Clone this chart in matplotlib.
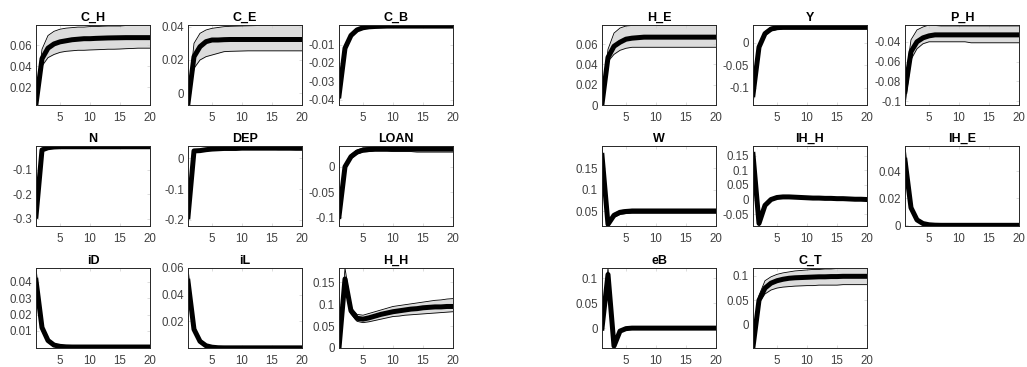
import numpy as np
import matplotlib
matplotlib.use("Agg")
import matplotlib.pyplot as plt

plt.rcParams["font.family"] = ["Liberation Sans", "DejaVu Sans"]

HORIZON = np.arange(1, 21)

# Impulse responses: median and upper / lower bands, 20 periods each
names = ["C_H", "C_E", "C_B", "N", "DEP", "LOAN", "iD", "iL", "H_H",
         "H_E", "Y", "P_H", "W", "IH_H", "IH_E", "eB", "C_T"]

mean = {
    "C_H": [0.004, 0.047, 0.057, 0.061, 0.063, 0.064, 0.065, 0.0655, 0.066, 0.066,
            0.0663, 0.0665, 0.0667, 0.0668, 0.0669, 0.067, 0.067, 0.067, 0.067, 0.067],
    "C_E": [-0.006, 0.022, 0.028, 0.031, 0.032, 0.032, 0.0322, 0.0323, 0.0323, 0.0323,
            0.0323, 0.0323, 0.0323, 0.0323, 0.0323, 0.0323, 0.0323, 0.0323, 0.0323, 0.0323],
    "C_B": [-0.038, -0.012, -0.005, -0.002, -0.0008, -0.0003, -0.0001, 0.0, 0.0001, 0.0001,
            0.0001, 0.0001, 0.0001, 0.0001, 0.0001, 0.0001, 0.0001, 0.0001, 0.0001, 0.0001],
    "N": [-0.29, -0.02, -0.011, -0.008, -0.007, -0.007, -0.007, -0.007, -0.007, -0.007,
          -0.007, -0.007, -0.007, -0.007, -0.007, -0.007, -0.007, -0.007, -0.007, -0.007],
    "DEP": [-0.19, 0.024, 0.025, 0.028, 0.030, 0.031, 0.032, 0.032, 0.032, 0.033,
            0.033, 0.033, 0.033, 0.033, 0.033, 0.033, 0.033, 0.033, 0.033, 0.033],
    "LOAN": [-0.098, 0.0, 0.02, 0.029, 0.033, 0.034, 0.035, 0.035, 0.035, 0.035,
             0.035, 0.035, 0.035, 0.035, 0.035, 0.035, 0.035, 0.035, 0.035, 0.035],
    "iD": [0.041, 0.012, 0.004, 0.0012, 0.0004, 0.0001, 0.0, 0.0, 0.0, 0.0,
           0.0, 0.0, 0.0, 0.0, 0.0, 0.0, 0.0, 0.0, 0.0, 0.0],
    "iL": [0.050, 0.014, 0.005, 0.0017, 0.0006, 0.0002, 0.0001, 0.0001, 0.0001, 0.0001,
           0.0001, 0.0001, 0.0001, 0.0001, 0.0001, 0.0001, 0.0001, 0.0001, 0.0001, 0.0001],
    "H_H": [0.0, 0.158, 0.085, 0.068, 0.066, 0.069, 0.073, 0.077, 0.080, 0.083,
            0.085, 0.087, 0.089, 0.090, 0.092, 0.093, 0.094, 0.094, 0.095, 0.095],
    "H_E": [0.001, 0.047, 0.058, 0.062, 0.065, 0.066, 0.0665, 0.067, 0.067, 0.067,
            0.067, 0.067, 0.067, 0.067, 0.067, 0.067, 0.067, 0.067, 0.067, 0.067],
    "Y": [-0.115, -0.01, 0.02, 0.03, 0.033, 0.034, 0.034, 0.034, 0.034, 0.034,
          0.034, 0.034, 0.034, 0.034, 0.034, 0.034, 0.034, 0.034, 0.034, 0.034],
    "P_H": [-0.09, -0.05, -0.040, -0.036, -0.034, -0.033, -0.033, -0.033, -0.033, -0.033,
            -0.033, -0.033, -0.033, -0.033, -0.033, -0.033, -0.033, -0.033, -0.033, -0.033],
    "W": [0.18, 0.019, 0.040, 0.047, 0.049, 0.050, 0.050, 0.050, 0.050, 0.050,
          0.050, 0.050, 0.050, 0.050, 0.050, 0.050, 0.050, 0.050, 0.050, 0.050],
    "IH_H": [0.155, -0.082, -0.02, 0.0, 0.007, 0.009, 0.009, 0.008, 0.007, 0.006,
             0.005, 0.005, 0.004, 0.004, 0.003, 0.003, 0.002, 0.001, 0.001, 0.0],
    "IH_E": [0.048, 0.013, 0.004, 0.0013, 0.0004, 0.0001, 0.0, 0.0, 0.0, 0.0,
             0.0, 0.0, 0.0, 0.0, 0.0, 0.0, 0.0, 0.0, 0.0, 0.0],
    "eB": [0.0, 0.108, -0.036, -0.006, -0.001, 0.0, 0.0, 0.0, 0.0, 0.0,
           0.0, 0.0, 0.0, 0.0, 0.0, 0.0, 0.0, 0.0, 0.0, 0.0],
    "C_T": [-0.045, 0.05, 0.075, 0.085, 0.09, 0.093, 0.095, 0.096, 0.0965, 0.097,
            0.0975, 0.098, 0.098, 0.0985, 0.0985, 0.099, 0.099, 0.099, 0.099, 0.099],
}

upper = {
    "C_H": [0.006, 0.056, 0.069, 0.073, 0.075, 0.076, 0.0765, 0.077, 0.077, 0.0775,
            0.0775, 0.0778, 0.078, 0.078, 0.078, 0.0785, 0.0785, 0.079, 0.079, 0.079],
    "C_E": [-0.005, 0.030, 0.036, 0.038, 0.039, 0.0395, 0.040, 0.0402, 0.0403, 0.0404,
            0.0405, 0.0406, 0.0407, 0.0408, 0.0408, 0.0409, 0.0409, 0.041, 0.041, 0.041],
    "C_B": [-0.034, -0.010, -0.004, -0.0014, -0.0003, 0.0002, 0.0004, 0.0005, 0.0006, 0.0006,
            0.0006, 0.0006, 0.0007, 0.0007, 0.0007, 0.0007, 0.0007, 0.0007, 0.0007, 0.0007],
    "N": [-0.26, -0.015, -0.007, -0.005, -0.004, -0.004, -0.004, -0.004, -0.004, -0.004,
          -0.004, -0.004, -0.004, -0.004, -0.004, -0.004, -0.004, -0.004, -0.004, -0.004],
    "DEP": [-0.16, 0.027, 0.028, 0.031, 0.033, 0.034, 0.035, 0.035, 0.035, 0.036,
            0.036, 0.037, 0.037, 0.038, 0.038, 0.039, 0.039, 0.04, 0.04, 0.04],
    "LOAN": [-0.08, 0.004, 0.024, 0.033, 0.037, 0.038, 0.039, 0.039, 0.039, 0.040,
             0.040, 0.040, 0.040, 0.041, 0.041, 0.041, 0.041, 0.041, 0.041, 0.041],
    "iD": [0.0486, 0.014, 0.005, 0.0016, 0.0006, 0.0002, 0.0001, 0.0, 0.0, 0.0,
           0.0, 0.0, 0.0, 0.0, 0.0, 0.0, 0.0, 0.0, 0.0, 0.0],
    "iL": [0.060, 0.017, 0.006, 0.002, 0.0007, 0.0003, 0.0002, 0.0002, 0.0002, 0.0002,
           0.0002, 0.0002, 0.0002, 0.0002, 0.0002, 0.0002, 0.0002, 0.0002, 0.0002, 0.0002],
    "H_H": [0.0, 0.183, 0.093, 0.077, 0.075, 0.079, 0.083, 0.087, 0.091, 0.095,
            0.097, 0.099, 0.101, 0.103, 0.105, 0.107, 0.109, 0.110, 0.112, 0.113],
    "H_E": [0.002, 0.055, 0.071, 0.076, 0.078, 0.0785, 0.079, 0.079, 0.079, 0.079,
            0.079, 0.079, 0.079, 0.079, 0.079, 0.079, 0.079, 0.079, 0.079, 0.079],
    "Y": [-0.095, -0.006, 0.024, 0.034, 0.037, 0.038, 0.038, 0.0385, 0.0385, 0.039,
          0.039, 0.039, 0.039, 0.039, 0.039, 0.039, 0.039, 0.039, 0.039, 0.039],
    "P_H": [-0.083, -0.038, -0.028, -0.025, -0.023, -0.0235, -0.024, -0.024, -0.024, -0.024,
            -0.024, -0.024, -0.024, -0.024, -0.024, -0.024, -0.024, -0.024, -0.024, -0.024],
    "W": [0.202, 0.022, 0.044, 0.051, 0.053, 0.054, 0.054, 0.054, 0.054, 0.054,
          0.054, 0.054, 0.054, 0.054, 0.054, 0.054, 0.054, 0.054, 0.054, 0.054],
    "IH_H": [0.184, -0.072, -0.014, 0.004, 0.011, 0.013, 0.013, 0.012, 0.011, 0.010,
             0.009, 0.009, 0.008, 0.008, 0.007, 0.007, 0.006, 0.005, 0.005, 0.004],
    "IH_E": [0.0586, 0.016, 0.005, 0.0017, 0.0006, 0.0002, 0.0001, 0.0, 0.0, 0.0,
             0.0, 0.0, 0.0, 0.0, 0.0, 0.0, 0.0, 0.0, 0.0, 0.0],
    "eB": [0.0, 0.121, -0.030, -0.003, 0.001, 0.002, 0.002, 0.002, 0.002, 0.002,
           0.002, 0.002, 0.002, 0.002, 0.002, 0.002, 0.002, 0.002, 0.002, 0.002],
    "C_T": [-0.04, 0.06, 0.09, 0.098, 0.103, 0.106, 0.108, 0.110, 0.111, 0.112,
            0.113, 0.113, 0.114, 0.114, 0.115, 0.115, 0.116, 0.116, 0.116, 0.116],
}

lower = {
    "C_H": [0.003, 0.040, 0.048, 0.051, 0.053, 0.054, 0.0545, 0.055, 0.055, 0.0553,
            0.0555, 0.0557, 0.056, 0.056, 0.0562, 0.0565, 0.0567, 0.057, 0.057, 0.057],
    "C_E": [-0.007, 0.015, 0.020, 0.022, 0.023, 0.024, 0.025, 0.0252, 0.0253, 0.0254,
            0.0255, 0.0255, 0.0255, 0.0255, 0.0255, 0.0255, 0.0255, 0.0255, 0.0255, 0.0255],
    "C_B": [-0.043, -0.014, -0.006, -0.0026, -0.0013, -0.0008, -0.0006, -0.0005, -0.0004, -0.0004,
            -0.0004, -0.0004, -0.0004, -0.0004, -0.0004, -0.0004, -0.0004, -0.0004, -0.0004, -0.0004],
    "N": [-0.33, -0.025, -0.015, -0.011, -0.010, -0.010, -0.010, -0.010, -0.010, -0.010,
          -0.010, -0.010, -0.010, -0.010, -0.010, -0.010, -0.010, -0.010, -0.010, -0.010],
    "DEP": [-0.22, 0.021, 0.022, 0.025, 0.027, 0.028, 0.029, 0.029, 0.029, 0.030,
            0.030, 0.030, 0.029, 0.029, 0.029, 0.028, 0.028, 0.028, 0.027, 0.027],
    "LOAN": [-0.117, -0.004, 0.016, 0.025, 0.029, 0.030, 0.031, 0.031, 0.031, 0.030,
             0.030, 0.030, 0.030, 0.029, 0.029, 0.029, 0.029, 0.029, 0.029, 0.029],
    "iD": [0.035, 0.010, 0.003, 0.0009, 0.0002, -0.0001, -0.0003, -0.0004, -0.0005, -0.0005,
           -0.0006, -0.0006, -0.0006, -0.0006, -0.0006, -0.0006, -0.0006, -0.0006, -0.0006, -0.0006],
    "iL": [0.042, 0.012, 0.004, 0.0014, 0.0004, 0.0001, 0.0, 0.0, 0.0, 0.0,
           0.0, 0.0, 0.0, 0.0, 0.0, 0.0, 0.0, 0.0, 0.0, 0.0],
    "H_H": [0.0, 0.140, 0.078, 0.061, 0.058, 0.060, 0.063, 0.066, 0.069, 0.072,
            0.073, 0.075, 0.076, 0.077, 0.078, 0.079, 0.080, 0.081, 0.082, 0.083],
    "H_E": [0.0, 0.043, 0.050, 0.054, 0.056, 0.057, 0.057, 0.057, 0.057, 0.057,
            0.057, 0.057, 0.057, 0.057, 0.057, 0.057, 0.057, 0.057, 0.057, 0.057],
    "Y": [-0.138, -0.014, 0.016, 0.026, 0.029, 0.030, 0.030, 0.030, 0.030, 0.030,
          0.030, 0.030, 0.030, 0.030, 0.030, 0.030, 0.030, 0.030, 0.030, 0.030],
    "P_H": [-0.104, -0.058, -0.047, -0.042, -0.040, -0.040, -0.040, -0.040, -0.040, -0.040,
            -0.040, -0.041, -0.041, -0.041, -0.041, -0.041, -0.041, -0.041, -0.041, -0.041],
    "W": [0.16, 0.015, 0.035, 0.042, 0.044, 0.045, 0.045, 0.045, 0.045, 0.045,
          0.045, 0.045, 0.045, 0.045, 0.045, 0.045, 0.045, 0.045, 0.045, 0.045],
    "IH_H": [0.13, -0.091, -0.026, -0.004, 0.003, 0.005, 0.005, 0.004, 0.003, 0.002,
             0.001, 0.001, 0.0, 0.0, -0.001, -0.001, -0.002, -0.003, -0.003, -0.004],
    "IH_E": [0.040, 0.011, 0.003, 0.0009, 0.0002, -0.0001, -0.0003, -0.0004, -0.0005, -0.0005,
             -0.0005, -0.0005, -0.0005, -0.0005, -0.0005, -0.0005, -0.0005, -0.0005, -0.0005, -0.0005],
    "eB": [0.0, 0.095, -0.040, -0.009, -0.003, -0.002, -0.002, -0.002, -0.002, -0.002,
           -0.002, -0.002, -0.002, -0.002, -0.002, -0.002, -0.002, -0.002, -0.002, -0.002],
    "C_T": [-0.0475, 0.045, 0.063, 0.071, 0.075, 0.077, 0.078, 0.079, 0.0795, 0.080,
            0.080, 0.081, 0.081, 0.081, 0.081, 0.082, 0.082, 0.082, 0.082, 0.082],
}

yticks = {
    "C_H": [0.02, 0.04, 0.06],
    "C_E": [0, 0.02, 0.04],
    "C_B": [-0.04, -0.03, -0.02, -0.01],
    "N": [-0.3, -0.2, -0.1],
    "DEP": [-0.2, -0.1, 0],
    "LOAN": [-0.1, -0.05, 0],
    "iD": [0.01, 0.02, 0.03, 0.04],
    "iL": [0.02, 0.04, 0.06],
    "H_H": [0, 0.05, 0.1, 0.15],
    "H_E": [0, 0.02, 0.04, 0.06],
    "Y": [-0.1, -0.05, 0],
    "P_H": [-0.1, -0.08, -0.06, -0.04],
    "W": [0.05, 0.1, 0.15],
    "IH_H": [-0.05, 0, 0.05, 0.1, 0.15],
    "IH_E": [0, 0.02, 0.04],
    "eB": [0, 0.05, 0.1],
    "C_T": [0, 0.05, 0.1],
}

XTICKS = [5, 10, 15, 20]

# panel grid (pixels in a 1027x367 canvas)
W_PX, H_PX = 1027, 367
col_left = [36, 188, 339, 602, 753, 905]
row_top = [25, 146, 268]
AX_W, AX_H = 114, 80

# which panel goes where: (row, column)
placement = {
    "C_H": (0, 0), "C_E": (0, 1), "C_B": (0, 2),
    "N": (1, 0), "DEP": (1, 1), "LOAN": (1, 2),
    "iD": (2, 0), "iL": (2, 1), "H_H": (2, 2),
    "H_E": (0, 3), "Y": (0, 4), "P_H": (0, 5),
    "W": (1, 3), "IH_H": (1, 4), "IH_E": (1, 5),
    "eB": (2, 3), "C_T": (2, 4),
}

fig = plt.figure(figsize=(W_PX / 100, H_PX / 100), dpi=100)

for name in names:
    r, c = placement[name]
    left = col_left[c] / W_PX
    bottom = 1 - (row_top[r] + AX_H) / H_PX
    ax = fig.add_axes([left, bottom, AX_W / W_PX, AX_H / H_PX])

    m = np.array(mean[name])
    up = np.array(upper[name])
    lo = np.array(lower[name])

    ax.fill_between(HORIZON, lo, up, color="#dcdcdc", linewidth=0)
    ax.plot(HORIZON, up, color="black", linewidth=0.6)
    ax.plot(HORIZON, lo, color="black", linewidth=0.6)
    ax.plot(HORIZON, m, color="black", linewidth=3.6)

    ax.set_xlim(1, 20)
    ax.set_ylim(lo.min(), up.max())
    ax.set_xticks(XTICKS)
    ax.set_yticks(yticks[name])
    ax.set_yticklabels([f"{v:g}" for v in yticks[name]])

    ax.set_title(name, fontsize=9, fontweight="bold", pad=3)
    ax.tick_params(direction="in", length=2.5, width=0.5, labelsize=8.3,
                   colors="#cfcfcf", labelcolor="#404040", top=True, right=True)
    ax.tick_params(axis="x", pad=5)
    ax.tick_params(axis="y", pad=3)
    for spine in ax.spines.values():
        spine.set_color("#262626")
        spine.set_linewidth(0.7)

fig.savefig("out.png", dpi=100)
